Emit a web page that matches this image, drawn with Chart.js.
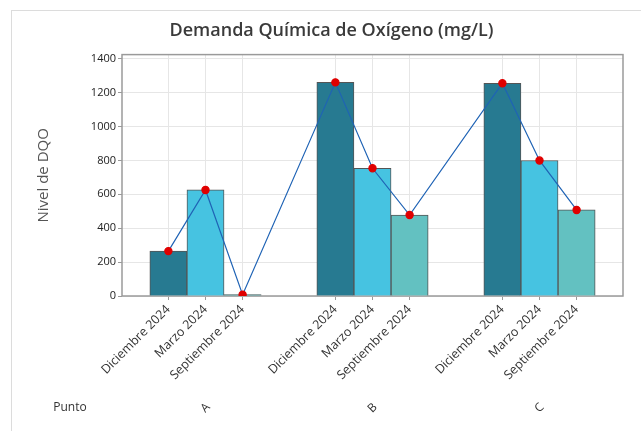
<!DOCTYPE html>
<html><head><meta charset="utf-8">
<script src="https://cdn.jsdelivr.net/npm/chart.js@4"></script>
<style>
html,body{margin:0;padding:0;background:#fff;}
#wrap{position:relative;width:641px;height:431px;overflow:hidden;}
#frame{position:absolute;left:11px;top:10px;right:-2px;bottom:-2px;border-left:1px solid #dcdcdc;border-top:1px solid #dcdcdc;}
canvas{position:absolute;left:0;top:0;}
</style></head><body>
<div id="wrap"><div id="frame"></div><canvas id="c" width="641" height="431"></canvas></div>
<script>
const points = ['A', 'B', 'C'];
const months = ['Diciembre 2024', 'Marzo 2024', 'Septiembre 2024'];
const valuesA = [265, 626, 8];
const valuesB = [1261, 754, 478];
const valuesC = [1256, 800, 508];
const yTicks = [0, 200, 400, 600, 800, 1000, 1200, 1400];
const chartTitle = 'Demanda Química de Oxígeno (mg/L)';
const yTitle = 'Nivel de DQO';
const groupLabel = 'Punto';

const F = '"Open Sans", sans-serif';
const monthColors = ['#277a91', '#46c3e1', '#63c1c1'];
const GROUP_STEP = 4.5;
const series = [valuesA, valuesB, valuesC];
const pts = [];
const colors = [];
series.forEach((vals, g) => vals.forEach((v, m) => {
  pts.push({x: g * GROUP_STEP + m, y: v});
  colors.push(monthColors[m]);
}));
const tickPos = pts.map(p => p.x);

const decor = {
  id: 'decor',
  beforeDatasetsDraw(chart) {
    const {ctx, chartArea: a} = chart;
    ctx.save();
    ctx.strokeStyle = '#9a9a9a';
    ctx.lineWidth = 1.5;
    ctx.strokeRect(a.left, a.top, a.right - a.left, a.bottom - a.top);
    ctx.restore();
  },
  afterDraw(chart) {
    const {ctx} = chart;
    const xs = chart.scales.x;
    ctx.save();
    ctx.fillStyle = '#333';
    ctx.font = '12px ' + F;
    ctx.textAlign = 'center';
    ctx.textBaseline = 'middle';
    ctx.fillText(groupLabel, 70, 408);
    points.forEach((p, g) => {
      const cx = xs.getPixelForValue(g * GROUP_STEP + (months.length - 1) / 2);
      ctx.save();
      ctx.translate(cx, 408);
      ctx.rotate(-Math.PI / 4);
      ctx.fillText(p, 0, 0);
      ctx.restore();
    });
    ctx.restore();
  }
};

new Chart(document.getElementById('c'), {
  type: 'bar',
  data: {
    datasets: [
      {type: 'line', data: pts, borderColor: '#1f63b5', borderWidth: 1.2,
       pointBackgroundColor: '#e00000', pointBorderColor: '#e00000', pointRadius: 3.6, order: 0},
      {type: 'bar', data: pts, backgroundColor: colors, borderColor: '#555', borderWidth: 1,
       categoryPercentage: 1, barPercentage: 1, order: 1}
    ]
  },
  options: {
    responsive: false,
    animation: false,
    layout: {padding: {left: 40, right: 18, top: 0, bottom: 0}},
    plugins: {
      legend: {display: false},
      tooltip: {enabled: false},
      title: {display: true, text: chartTitle, color: '#3a3a3a',
              font: {family: F, size: 18, weight: '600'}, padding: {top: 20, bottom: 13}}
    },
    scales: {
      x: {
        type: 'linear', min: -1.25, max: 12.25, offset: false,
        grid: {offset: false, color: '#e6e6e6', tickLength: 4, tickColor: '#999'},
        border: {display: false},
        afterBuildTicks: s => { s.ticks = tickPos.map(v => ({value: v})); },
        afterFit: s => { s.height = 135; },
        ticks: {autoSkip: false, maxRotation: 45, minRotation: 45, padding: 2,
                font: {family: F, size: 12.5}, color: '#333',
                callback: (v, i) => months[i % months.length]}
      },
      y: {
        min: 0, max: 1425,
        afterBuildTicks: s => { s.ticks = yTicks.map(v => ({value: v})); },
        afterFit: s => { s.width = 82; },
        grid: {color: '#e6e6e6', tickLength: 4, tickColor: '#999'},
        border: {display: false},
        ticks: {font: {family: F, size: 11}, color: '#222', padding: 2,
                callback: v => String(v)},
        title: {display: true, text: yTitle, color: '#555', font: {family: F, size: 15},
                padding: {top: -5.4, bottom: 0}}
      }
    }
  },
  plugins: [decor]
});
</script>
</body></html>
